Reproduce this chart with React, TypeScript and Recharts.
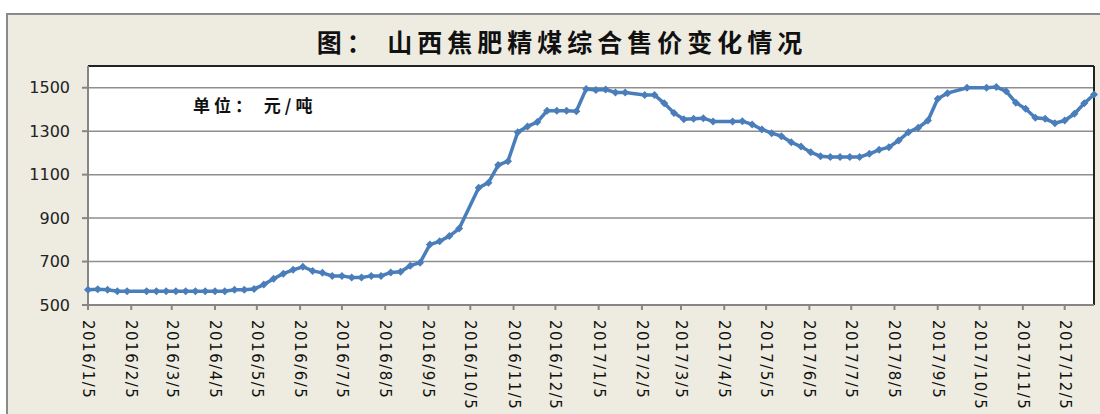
import { LineChart, Line, XAxis, YAxis, CartesianGrid, ReferenceLine } from 'recharts';

// weekly quotes, yuan per ton
const dates = [
  "2016/1/5", "2016/1/12", "2016/1/19", "2016/1/26", "2016/2/2", "2016/2/16", "2016/2/23",
  "2016/3/1", "2016/3/8", "2016/3/15", "2016/3/22", "2016/3/29", "2016/4/5", "2016/4/12",
  "2016/4/19", "2016/4/26", "2016/5/3", "2016/5/10", "2016/5/17", "2016/5/24", "2016/5/31",
  "2016/6/7", "2016/6/14", "2016/6/21", "2016/6/28", "2016/7/5", "2016/7/12", "2016/7/19",
  "2016/7/26", "2016/8/2", "2016/8/9", "2016/8/16", "2016/8/23", "2016/8/30", "2016/9/6",
  "2016/9/13", "2016/9/20", "2016/9/27", "2016/10/11", "2016/10/18", "2016/10/25", "2016/11/1",
  "2016/11/8", "2016/11/15", "2016/11/22", "2016/11/29", "2016/12/6", "2016/12/13", "2016/12/20",
  "2016/12/27",
  "2017/1/3", "2017/1/10", "2017/1/17", "2017/1/24", "2017/2/7", "2017/2/14", "2017/2/21",
  "2017/2/28", "2017/3/7", "2017/3/14", "2017/3/21", "2017/3/28", "2017/4/11", "2017/4/18",
  "2017/4/25", "2017/5/2", "2017/5/9", "2017/5/16", "2017/5/23", "2017/5/30", "2017/6/6",
  "2017/6/13", "2017/6/20", "2017/6/27", "2017/7/4", "2017/7/11", "2017/7/18", "2017/7/25",
  "2017/8/1", "2017/8/8", "2017/8/15", "2017/8/22", "2017/8/29", "2017/9/5", "2017/9/12",
  "2017/9/26", "2017/10/10", "2017/10/17", "2017/10/24", "2017/10/31", "2017/11/7", "2017/11/14",
  "2017/11/21", "2017/11/28", "2017/12/5", "2017/12/12", "2017/12/19", "2017/12/26",
];

const prices = [
  570, 572, 570, 563, 563, 563, 563,
  563, 563, 563, 563, 563, 563, 563,
  570, 570, 574, 594, 621, 644, 662,
  676, 657, 648, 634, 634, 627, 627,
  634, 634, 650, 653, 681, 695, 778,
  793, 817, 852, 1040, 1063, 1144, 1162,
  1295, 1322, 1342, 1394, 1394, 1394, 1392,
  1494,
  1490, 1492, 1478, 1478, 1467, 1467, 1428,
  1384, 1355, 1357, 1360, 1345, 1345, 1346,
  1331, 1308, 1291, 1277, 1249, 1229, 1203,
  1185, 1181, 1181, 1181, 1181, 1196, 1214,
  1226, 1257, 1295, 1316, 1349, 1449, 1475,
  1500, 1500, 1503, 1484, 1431, 1403, 1362,
  1357, 1337, 1349, 1380, 1428, 1469,
];

const tickDates = [
  "2016/1/5", "2016/2/5", "2016/3/5", "2016/4/5", "2016/5/5", "2016/6/5",
  "2016/7/5", "2016/8/5", "2016/9/5", "2016/10/5", "2016/11/5", "2016/12/5",
  "2017/1/5", "2017/2/5", "2017/3/5", "2017/4/5", "2017/5/5", "2017/6/5",
  "2017/7/5", "2017/8/5", "2017/9/5", "2017/10/5", "2017/11/5", "2017/12/5",
];

const yTicks = [500, 700, 900, 1100, 1300, 1500];

const toDay = (s: string) => {
  const [y, m, d] = s.split('/').map(Number);
  return Date.UTC(y, m - 1, d) / 86400000;
};

const fmtDay = (v: number) => {
  const dt = new Date(v * 86400000);
  return `${dt.getUTCFullYear()}/${dt.getUTCMonth() + 1}/${dt.getUTCDate()}`;
};

const data = dates.map((d, i) => ({ t: toDay(d), price: prices[i] }));
const xTicks = tickDates.map(toDay);
const xMin = data[0].t;
const xMax = data[data.length - 1].t;

const BLUE = '#4A7EBB';
const AXIS = '#868686';

const XTick = (props: any) => {
  const { x, y, payload } = props;
  return (
    <g transform={`translate(${x},${y})`}>
      <text x={8} y={0} transform="rotate(90)" textAnchor="start" dominantBaseline="central"
        fontSize={15} fill="#111" fontFamily="DejaVu Sans" letterSpacing={1.5}>
        {fmtDay(payload.value)}
      </text>
    </g>
  );
};

const Diamond = (props: any) => {
  const { cx, cy, index } = props;
  if (cx == null || cy == null) return <g key={index} />;
  return (
    <path key={index} d={`M${cx},${cy - 4}L${cx + 4},${cy}L${cx},${cy + 4}L${cx - 4},${cy}Z`} fill={BLUE} />
  );
};

export default function App() {
  return (
    <div style={{ position: 'absolute', left: 0, top: 0, width: 1100, height: 414, overflow: 'hidden', background: '#fff' }}>
      <div style={{ position: 'absolute', left: 6, top: 13, width: 1110, height: 420, border: '2px solid #8a8a8a', background: '#EEECE1' }} />
      <div style={{ position: 'absolute', left: 0, top: 0 }}>
        <LineChart width={1100} height={414} data={data} margin={{ top: 66, right: 6, bottom: 9, left: 8 }}>
          <CartesianGrid horizontal vertical={false} stroke="#8e8e8e" strokeWidth={1.5} fill="#fff" />
          <XAxis dataKey="t" type="number" domain={[xMin, xMax]} ticks={xTicks} interval={0}
            height={100} stroke={AXIS} strokeWidth={2} tickSize={5} tickLine={{ stroke: AXIS }} tick={<XTick />} />
          <YAxis domain={[500, 1600]} ticks={yTicks} width={80} stroke={AXIS} strokeWidth={2}
            tickSize={6} tickMargin={12} tickLine={{ stroke: AXIS }}
            tick={{ fontSize: 16, fill: '#222', fontFamily: 'DejaVu Sans' }} />
          <ReferenceLine y={1600} stroke="#222" strokeWidth={2} />
          <ReferenceLine x={xMax} stroke="#222" strokeWidth={2} />
          <Line type="linear" dataKey="price" stroke={BLUE} strokeWidth={3.5} dot={<Diamond />}
            activeDot={false} isAnimationActive={false} />
        </LineChart>
      </div>
      <div style={{ position: 'absolute', left: 0, width: 1124, top: 26, textAlign: 'center', fontFamily: '"Noto Sans CJK SC"', fontWeight: 700, fontSize: 25, letterSpacing: 5, color: '#111', lineHeight: '30px' }}>
        图： 山西焦肥精煤综合售价变化情况
      </div>
      <div style={{ position: 'absolute', left: 193, top: 94, fontFamily: '"Noto Sans CJK SC"', fontWeight: 700, fontSize: 17, letterSpacing: 4, color: '#111', lineHeight: '22px' }}>
        单位： 元/吨
      </div>
    </div>
  );
}
